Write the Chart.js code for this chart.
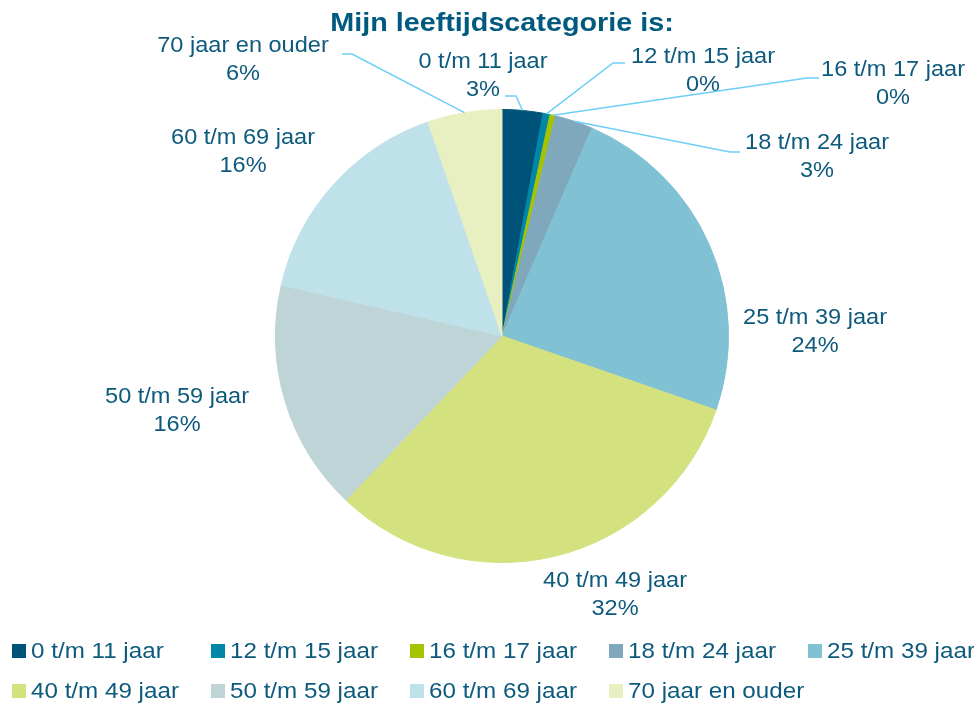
<!DOCTYPE html>
<html>
<head>
<meta charset="utf-8">
<script src="https://cdn.jsdelivr.net/npm/chart.js@4/dist/chart.umd.min.js"></script>
<style>
    body { margin: 0; background: #fff; }
    #wrap { position: relative; width: 974px; height: 704px; }
    #legend {
        position: absolute; left: 12px; top: 639px;
        display: grid; grid-template-columns: repeat(5, 199px); row-gap: 16px;
        font-family: "Liberation Sans", Arial, sans-serif; font-size: 22px; color: #0d5a7d;
    }
    .item { display: flex; align-items: center; height: 24px; white-space: nowrap; }
    .box { width: 14px; height: 14px; margin-right: 5px; flex: none; }
    .txt { display: inline-block; transform: scaleX(1.1); transform-origin: left center; }
</style>
</head>
<body>
<div id="wrap">
    <canvas id="chart" width="974" height="704"></canvas>
    <div id="legend"></div>
</div>
<script>
const title = "Mijn leeftijdscategorie is:";
const categories = ["0 t/m 11 jaar", "12 t/m 15 jaar", "16 t/m 17 jaar", "18 t/m 24 jaar", "25 t/m 39 jaar",
    "40 t/m 49 jaar", "50 t/m 59 jaar", "60 t/m 69 jaar", "70 jaar en ouder"];
const shares = [2.9, 0.5, 0.4, 2.7, 23.8, 31.8, 16.5, 16.1, 5.3];
const shareLabels = ["3%", "0%", "0%", "3%", "24%", "32%", "16%", "16%", "6%"];
const colors = ["#005378", "#0087a8", "#a5c300", "#7fa8bc", "#80c2d4", "#d4e17f", "#bfd4d6", "#bfe1ea", "#e8f0c2"];

// label position (first line centre) relative to pie centre
const labelPos = [[-19,-274],[201,-279],[391,-266],[315,-193],[313,-18],[113,245],[-325,61],[-259,-198],[-259,-290]];
// leader line elbow + length of short tail, null = no leader
const leaders = [[14,-240,-11],[111,-273,12],[305,-258,12],[228,-184,10],null,null,null,null,[-150,-282,-10]];

const textColor = "#0d5a7d";
const font = '"Liberation Sans", Arial, sans-serif';

function stretchedText(ctx, text, x, y, sx){
    ctx.save();
    ctx.translate(x, y);
    ctx.scale(sx, 1);
    ctx.fillText(text, 0, 0);
    ctx.restore();
}

const labelPlugin = {
    id: 'labels',
    afterDraw(chart) {
        const ctx = chart.ctx;
        const arcs = chart.getDatasetMeta(0).data;
        ctx.save();
        ctx.fillStyle = "#005a7f";
        ctx.font = "bold 25px " + font;
        ctx.textAlign = "center";
        ctx.textBaseline = "alphabetic";
        stretchedText(ctx, title, 502, 31, 1.15);

        arcs.forEach((arc, i) => {
            const cx = arc.x, cy = arc.y;
            const lead = leaders[i];
            if(lead){
                const mid = (arc.startAngle + arc.endAngle) / 2;
                const r = arc.outerRadius;
                ctx.strokeStyle = "#6dcff6";
                ctx.lineWidth = 1.5;
                ctx.beginPath();
                ctx.moveTo(cx + r * Math.cos(mid), cy + r * Math.sin(mid));
                ctx.lineTo(cx + lead[0], cy + lead[1]);
                ctx.lineTo(cx + lead[0] + lead[2], cy + lead[1]);
                ctx.stroke();
            }
            ctx.fillStyle = textColor;
            ctx.font = "22px " + font;
            ctx.textAlign = "center";
            ctx.textBaseline = "middle";
            const lx = cx + labelPos[i][0], ly = cy + labelPos[i][1];
            stretchedText(ctx, categories[i], lx, ly, 1.07);
            stretchedText(ctx, shareLabels[i], lx, ly + 28, 1.07);
        });
        ctx.restore();
    }
};

new Chart(document.getElementById("chart"), {
    type: 'pie',
    data: {
        labels: categories,
        datasets: [{
            data: shares,
            backgroundColor: colors,
            borderColor: colors,
            borderWidth: 1
        }]
    },
    options: {
        responsive: false,
        animation: false,
        layout: { padding: { top: 109, bottom: 141, left: 275, right: 245 } },
        plugins: {
            legend: { display: false },
            tooltip: { enabled: false }
        }
    },
    plugins: [labelPlugin]
});

const legend = document.getElementById("legend");
categories.forEach((c, i) => {
    const item = document.createElement("div");
    item.className = "item";
    item.innerHTML = '<span class="box" style="background:' + colors[i] + '"></span><span class="txt">' + c + '</span>';
    legend.appendChild(item);
});
</script>
</body>
</html>
